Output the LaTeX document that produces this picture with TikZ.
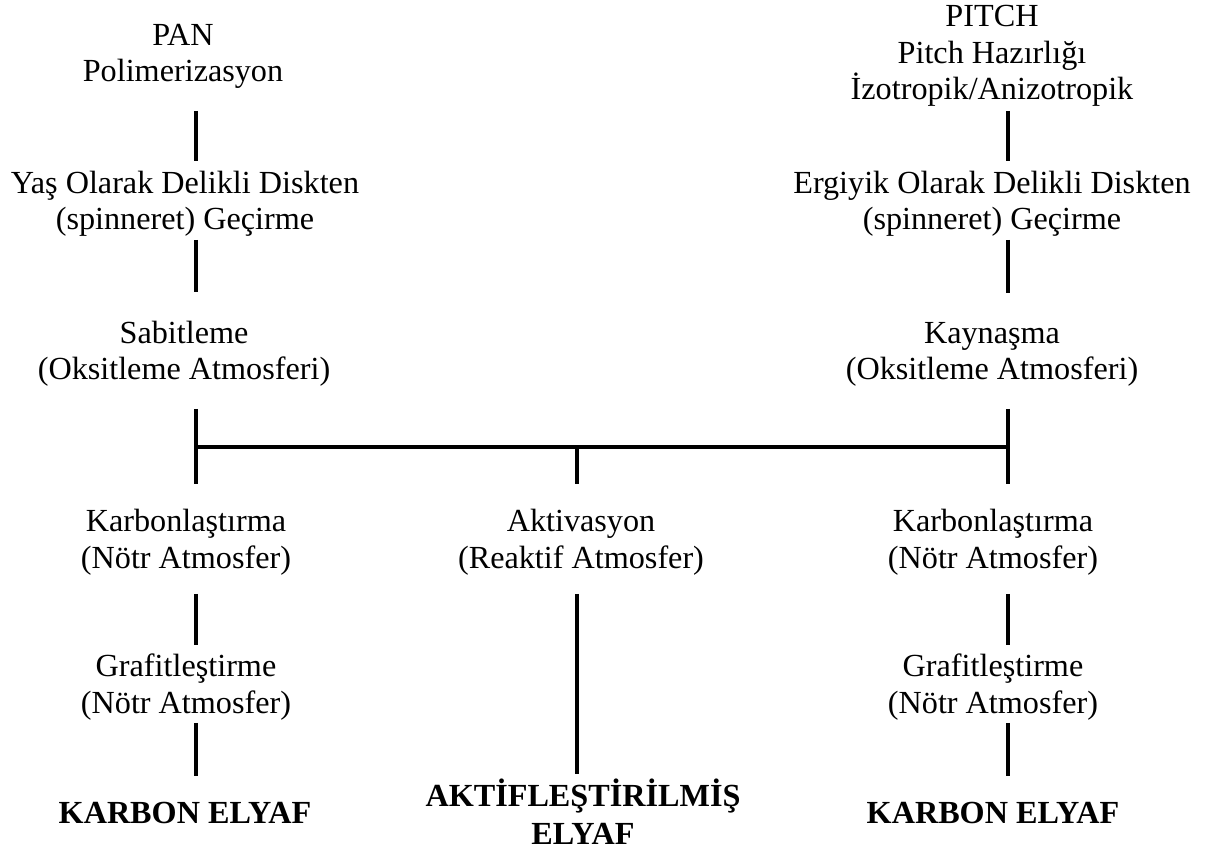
\documentclass[tikz,border=0pt]{standalone}
\usepackage{fontspec}
\setmainfont{Liberation Serif}
\usetikzlibrary{calc,positioning}

\begin{document}
\begin{tikzpicture}[x=1pt,y=-1pt]
\def\lw{4pt}
\tikzstyle{st}=[font={\fontsize{32.2}{36.5}\selectfont},align=center,inner sep=0pt,outer sep=0pt,anchor=base]
\tikzstyle{res}=[st,font={\fontsize{32.2}{38}\selectfont\bfseries}]
\tikzstyle{ln}=[line width=\lw]

\useasboundingbox (0,0) rectangle (1216,850);

% points on the bar
\coordinate (bl) at (196,447);
\coordinate (bm) at (577,447);
\coordinate (br) at (1008,447);

% PAN branch (base = last line)
\draw node[st] (pan) at (183,82) {PAN\\Polimerizasyon}
      node[st] (yas) at (185,230) {Yaş Olarak Delikli Diskten\\(spinneret) Geçirme}
      node[st] (sab) at (184,380) {Sabitleme\\(Oksitleme Atmosferi)}
;
% PITCH branch
\draw node[st] (pitch) at (992,100) {PITCH\\Pitch Hazırlığı\\İzotropik/Anizotropik}
      node[st] (erg) at (992,230) {Ergiyik Olarak Delikli Diskten\\(spinneret) Geçirme}
      node[st] (kay) at (992,380) {Kaynaşma\\(Oksitleme Atmosferi)}
;
% after the bar
\draw node[st] (karbl) at (186,568) {Karbonlaştırma\\(Nötr Atmosfer)}
      node[st] (akt) at (581,568) {Aktivasyon\\(Reaktif Atmosfer)}
      node[st] (karbr) at (993,568) {Karbonlaştırma\\(Nötr Atmosfer)}
      node[st] (grafl) at (186,713) {Grafitleştirme\\(Nötr Atmosfer)}
      node[st] (grafr) at (993,713) {Grafitleştirme\\(Nötr Atmosfer)}
      node[res] (elyl) at (185,823) {KARBON ELYAF}
      node[res] (aktely) at (583,844) {AKTİFLEŞTİRİLMİŞ\\ELYAF}
      node[res] (elyr) at (993,823) {KARBON ELYAF}
;

% the connecting lines
\draw[ln,shorten <=22pt,shorten >=10pt] (pan.south -| bl) -- (yas.north -| bl);
\draw[ln,shorten <=3pt,shorten >=29pt] (yas.south -| bl) -- (sab.north -| bl);
\draw[ln,shorten <=22pt] (sab.south -| bl) -- (bl);
\draw[ln,shorten <=4pt,shorten >=10pt] (pitch.south -| br) -- (erg.north -| br);
\draw[ln,shorten <=3pt,shorten >=29pt] (erg.south -| br) -- (kay.north -| br);
\draw[ln,shorten <=22pt] (kay.south -| br) -- (br);
\draw[ln] (bl) -- (br);

\draw[ln,shorten >=25pt] (bl) -- (karbl.north -| bl);
\draw[ln,shorten >=25pt] (bm) -- (akt.north -| bm);
\draw[ln,shorten >=25pt] (br) -- (karbr.north -| br);
\draw[ln,shorten <=19pt,shorten >=9pt] (karbl.south -| bl) -- (grafl.north -| bl);
\draw[ln,shorten <=19pt,shorten >=9pt] (karbr.south -| br) -- (grafr.north -| br);
\draw[ln,shorten <=3pt,shorten >=26pt] (grafl.south -| bl) -- (elyl.north -| bl);
\draw[ln,shorten <=3pt,shorten >=26pt] (grafr.south -| br) -- (elyr.north -| br);
\draw[ln,shorten <=19pt,shorten >=4pt] (akt.south -| bm) -- (aktely.north -| bm);
\end{tikzpicture}
\end{document}
